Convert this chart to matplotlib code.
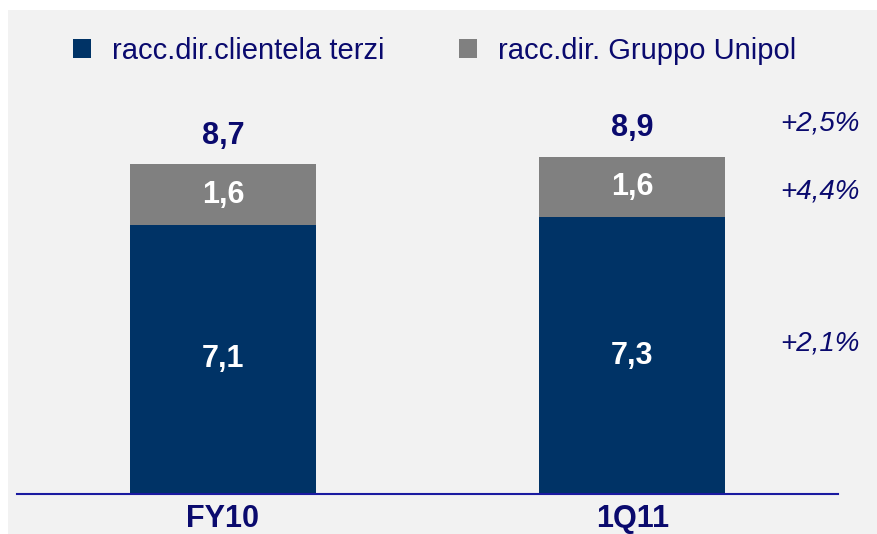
import matplotlib
matplotlib.use("Agg")
import matplotlib.pyplot as plt
from matplotlib.patches import Rectangle, Patch

plt.rcParams['font.family'] = ['Liberation Sans', 'DejaVu Sans']

categories = ['FY10', '1Q11']
series_names = ['racc.dir.clientela terzi', 'racc.dir. Gruppo Unipol']
clientela_terzi = [7.1, 7.3]
gruppo_unipol = [1.6, 1.6]
totals = [8.7, 8.9]
growth_labels = ['+2,5%', '+4,4%', '+2,1%']   # total, Unipol, terzi

NAVY = '#0a0a6e'
DARK = '#003366'
GREY = '#808080'
BG = '#f2f2f2'

W, H = 877, 534
fig = plt.figure(figsize=(W / 100, H / 100), dpi=100, facecolor='white')
fig.add_artist(Rectangle((8 / W, 0), 1 - 8 / W, 1 - 10 / H, transform=fig.transFigure,
                         facecolor=BG, edgecolor='none', zorder=0))

ax = fig.add_axes([17 / W, 40 / H, 821 / W, 484 / H])
ax.set_facecolor('none')
x = list(range(len(categories)))
bw = 0.454
ax.bar(x, clientela_terzi, width=bw, color=DARK, zorder=2)
ax.bar(x, gruppo_unipol, width=bw, bottom=clientela_terzi, color=GREY, zorder=2)

fmt = lambda v: f'{v:.1f}'.replace('.', ',')
for i in x:
    ax.text(i, clientela_terzi[i] / 2, fmt(clientela_terzi[i]), ha='center', va='center',
            color='white', fontsize=22, fontweight='bold')
    ax.text(i, clientela_terzi[i] + gruppo_unipol[i] / 2, fmt(gruppo_unipol[i]), ha='center',
            va='center', color='white', fontsize=22, fontweight='bold')
    ax.text(i, totals[i] + 0.75, fmt(totals[i]), ha='center', va='center',
            color=NAVY, fontsize=22, fontweight='bold')

ax.set_xlim(-0.503, 1.502)
ax.set_ylim(0, 12.77)
for s in ['top', 'left', 'right']:
    ax.spines[s].set_visible(False)
ax.spines['bottom'].set_color('#1a1aa0')
ax.spines['bottom'].set_linewidth(1.5)
ax.set_yticks([])
ax.set_xticks(x)
ax.set_xticklabels(categories, fontsize=22, fontweight='bold', color=NAVY)
ax.tick_params(axis='x', length=0, pad=7)

# growth annotations
for lab, ypx in zip(growth_labels, [123, 192, 343]):
    fig.text(860 / W, 1 - ypx / H, lab, ha='right', va='center', fontsize=20,
             style='italic', color=NAVY)

handles = [Patch(facecolor=DARK, edgecolor='none'), Patch(facecolor=GREY, edgecolor='none')]
fig.legend(handles, series_names, loc='center left', bbox_to_anchor=(73 / W, 1 - 51 / H),
           ncol=2, frameon=False, fontsize=21, handlelength=0.62, handleheight=0.62,
           handletextpad=0.72, columnspacing=2.55, borderpad=0, borderaxespad=0,
           labelcolor=NAVY)

fig.savefig('out.png', dpi=100, facecolor='white')
